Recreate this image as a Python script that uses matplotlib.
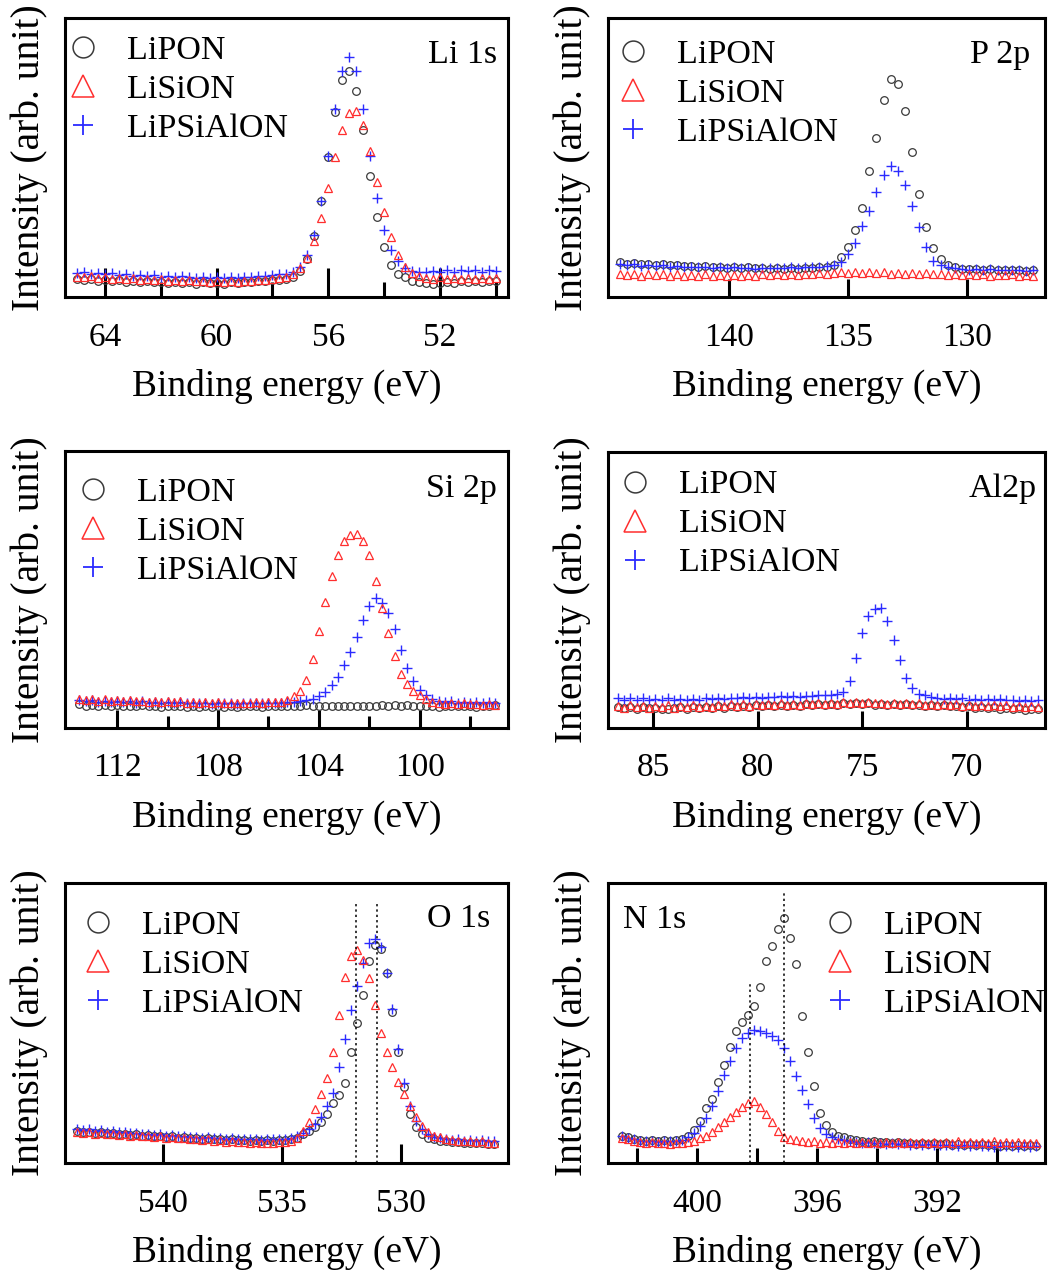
import numpy as np
import matplotlib
matplotlib.use("Agg")
import matplotlib.pyplot as plt
from matplotlib.lines import Line2D

W, H = 1061, 1284
plt.rcParams['font.family'] = ['Liberation Serif', 'DejaVu Serif']

SERIES = ['LiPON', 'LiSiON', 'LiPSiAlON']

# Li 1s : binding energy from 65.0 eV, 0.25 eV per point (intensity in % of axis height)
li_start, li_step = 65.0, 0.25
li_lipon = [6.4, 6.0, 6.5, 5.8, 6.2, 5.6, 6.0, 5.5, 5.8, 5.3, 5.6, 5.2, 5.5, 5.0, 5.4, 4.9, 5.3, 4.8, 5.2, 4.9,
            5.1, 4.8, 5.2, 5.0, 5.3, 5.2, 5.6, 5.8,
            6.0, 6.1, 6.3, 7.0, 9.3, 13.7, 21.8, 34.3, 50.2, 66.2, 77.8, 81.0, 74.0, 60.0, 43.5, 28.8, 18.0, 11.6,
            8.3, 7.0, 5.8, 5.2, 4.9,
            4.7, 5.0, 5.3, 5.0, 5.6, 5.3, 5.8, 5.4, 5.9, 5.6]
li_lision = [7.3, 7.0, 7.4, 6.8, 7.1, 6.6, 6.9, 6.4, 6.7, 6.2, 6.5, 6.0, 6.3, 5.9, 6.2, 5.7, 6.0, 5.6, 5.9, 5.5,
             5.8, 5.4, 5.7, 5.5, 5.8, 5.6, 6.0, 6.2,
             6.6, 6.8, 7.2, 8.2, 10.3, 14.0, 19.9, 28.4, 39.0, 50.2, 60.0, 66.0, 66.5, 61.5, 52.4, 41.2, 30.4, 21.4,
             15.0, 10.9, 8.5, 7.4, 6.9,
             6.6, 7.0, 6.5, 6.8, 6.4, 6.9, 6.5, 6.8, 6.3, 6.7]
li_lipsialon = [8.6, 8.9, 8.3, 8.7, 8.1, 8.5, 7.9, 8.2, 7.6, 8.0, 7.5, 7.8, 7.2, 7.6, 7.0, 7.4, 7.1, 6.8, 7.3, 6.9,
                7.2, 6.7, 7.1, 6.9, 7.3, 7.0, 7.5, 7.7,
                8.0, 8.1, 8.3, 9.0, 10.8, 14.9, 22.4, 34.5, 50.4, 67.5, 80.9, 86.0, 80.9, 67.5, 50.4, 35.5, 24.0,
                17.0, 12.8, 10.5, 9.3, 9.0, 8.8,
                9.4, 8.9, 9.6, 9.1, 9.7, 9.2, 9.5, 9.0, 9.6, 9.3]

# P 2p : from 144.6 eV, 0.3 eV per point
p_start, p_step = 144.6, 0.3
p_lipon = [12.4, 12.0, 12.3, 11.8, 11.9, 11.5, 11.7, 11.3, 11.4, 11.0, 11.2, 10.8, 11.0, 10.7, 10.9, 10.5, 10.8,
           10.4, 10.6, 10.3, 10.5, 10.2, 10.4, 10.1, 10.3, 10.2, 10.4, 10.3, 10.6, 10.8,
           11.5, 14.5, 18.0, 24.0, 32.0, 45.0, 56.9, 70.5, 78.0, 76.4, 66.5, 51.8, 36.9, 25.2, 17.6, 13.5, 11.6, 10.8,
           10.2, 9.9, 10.1, 9.7, 9.9, 9.6, 9.8, 9.5, 9.7, 9.4, 9.6]
p_lision = [8.4, 7.9, 8.2, 7.7, 8.3, 7.8, 8.1, 7.6, 8.2, 7.7, 8.0, 7.5, 8.1, 7.6, 7.9, 7.5, 8.0, 7.6, 7.9, 7.7,
            8.1, 7.8, 8.2, 7.9, 8.3, 8.0, 8.4, 8.1, 8.5, 8.2,
            8.6, 8.9, 8.5, 9.1, 8.7, 8.9, 8.6, 8.8, 8.4, 8.7, 8.3, 8.6, 8.2, 8.5, 8.1, 8.4, 8.0, 8.3,
            7.9, 8.2, 7.8, 8.1, 7.7, 8.0, 7.8, 8.1, 7.7, 7.9, 7.6]
p_lipsialon = [11.8, 11.4, 11.7, 11.2, 11.5, 11.0, 11.3, 10.9, 11.1, 10.7, 10.9, 10.6, 10.8, 10.4, 10.7, 10.3,
               10.6, 10.3, 10.5, 10.2, 10.4, 10.3, 10.5, 10.4, 10.6, 10.5, 10.7, 10.8, 10.9, 11.1,
               11.6, 12.6, 15.5, 19.5, 25.5, 30.8, 37.7, 43.9, 46.8, 45.3, 40.0, 32.6, 25.2, 18.0, 13.0, 11.5, 10.8,
               10.4,
               10.1, 9.8, 10.0, 9.7, 9.9, 9.6, 9.8, 9.5, 9.7, 9.4, 9.6]

# Si 2p : from 113.5 eV, 0.25 eV per point
si_start, si_step = 113.5, 0.25
si_lipon = [8.5, 8.1, 8.4, 8.0, 8.3, 7.9, 8.2, 7.9, 8.1, 7.8, 8.2, 7.8, 8.0, 7.7, 8.1, 7.8, 8.0, 7.7, 7.9, 7.6,
            8.0, 7.7, 7.9, 7.6, 8.0, 7.7, 7.9, 7.8, 8.0, 7.7, 7.9, 7.8, 8.0, 7.8, 8.1, 7.9, 8.2, 7.9, 8.1, 7.8,
            8.0, 7.8, 8.1, 7.9, 8.0, 7.8, 8.1, 7.9, 8.2, 8.0, 8.3, 8.0, 8.2, 7.9, 8.1, 7.8, 8.0, 7.7, 8.0, 7.8,
            8.1, 7.8, 8.0, 7.7, 8.1, 7.9, 8.2]
si_lision = [10.6, 10.1, 10.5, 9.9, 10.3, 9.8, 10.2, 9.7, 10.0, 9.6, 9.9, 9.5, 9.8, 9.4, 9.7, 9.3, 9.6, 9.2, 9.5,
             9.1, 9.4, 9.0, 9.3, 9.0, 9.2, 8.9, 9.2, 9.0, 9.3, 9.1, 9.4, 9.3,
             9.5, 10.2, 11.4, 13.5, 17.5, 25.0, 35.0, 45.5, 55.0, 62.5, 67.5, 69.8, 70.0, 67.5, 62.5, 53.0, 43.5,
             34.2, 26.0, 19.5, 15.8, 13.5, 11.8, 10.3, 9.5,
             9.0, 8.7, 9.1, 8.6, 8.9, 8.5, 8.8, 8.4, 8.7, 8.3]
si_lipsialon = [10.0, 9.6, 10.1, 9.5, 9.9, 9.4, 9.8, 9.3, 9.7, 9.2, 9.6, 9.2, 9.5, 9.1, 9.4, 9.0, 9.3, 8.9, 9.2,
                8.9, 9.2, 8.8, 9.1, 8.9, 9.2, 8.8, 9.1, 8.9, 9.2, 9.0, 9.1, 8.9, 9.2, 9.3,
                9.4, 9.6, 10.0, 10.6, 11.4, 13.0, 15.5, 18.5, 22.8, 27.5, 33.0, 39.0, 44.0, 46.8, 45.0, 41.5, 35.8,
                28.0, 21.5, 17.0, 13.8, 11.8, 10.4,
                9.8, 9.4, 9.7, 9.2, 9.5, 9.1, 9.4, 9.0, 9.3, 9.0]

# Al 2p : from 86.7 eV, 0.3 eV per point
al_start, al_step = 86.7, 0.3
al_lipon = [7.5, 7.1, 7.7, 7.0, 7.6, 7.2, 7.4, 6.9, 6.8, 7.3, 7.5, 7.0, 7.6, 7.2, 7.7, 7.3, 7.8, 7.4, 7.9, 7.5,
            8.1, 7.6, 8.2, 7.8, 8.3, 7.9, 8.4, 8.0, 8.5, 8.1, 8.6, 8.2, 8.7,
            8.3, 8.8, 8.4, 8.9, 8.6, 9.0, 8.7, 8.9, 8.5, 8.8, 8.4, 8.7, 8.3, 8.6, 8.2, 8.5, 8.1, 8.4,
            8.0, 8.3, 7.8, 8.1, 7.6, 7.9, 7.4, 7.7, 7.1, 7.5, 6.9, 7.3, 6.8, 7.2, 6.7, 7.0, 6.9]
al_lision = [8.0, 7.4, 8.2, 7.5, 8.1, 7.3, 7.9, 7.6, 8.3, 7.4, 8.0, 7.5, 8.2, 7.6, 8.1, 7.7, 8.4, 7.8, 8.6, 8.0,
             8.7, 8.1, 8.8, 8.2, 8.7, 8.3, 8.9, 8.4, 8.8, 8.5, 9.0, 8.6, 9.1,
             8.7, 9.2, 8.8, 9.4, 9.0, 9.5, 9.1, 9.3, 8.9, 9.2, 8.8, 9.1, 8.7, 9.0, 8.6, 8.9, 8.5, 8.8,
             8.4, 8.7, 8.2, 8.6, 8.1, 8.5, 8.0, 8.4, 7.9, 8.3, 7.8, 8.2, 7.7, 8.1, 7.6, 8.0, 7.5]
al_lipsialon = [10.8, 10.3, 10.9, 10.2, 10.7, 10.1, 10.6, 10.2, 10.8, 10.1, 10.5, 10.0, 10.6, 10.2, 10.7, 10.4,
                10.9, 10.5, 11.0, 10.7, 11.2, 10.9, 11.3, 11.0, 11.4, 11.1, 11.5, 11.2, 11.6, 11.3, 11.7, 11.5, 11.9,
                12.0, 11.8, 12.2, 13.0, 17.0, 25.5, 34.5, 40.5, 43.0, 43.5, 38.8, 32.0, 24.5, 18.0, 14.5, 12.4,
                11.8, 11.2,
                11.0, 10.6, 10.9, 10.4, 10.7, 10.2, 10.6, 10.1, 10.5, 10.0, 10.4, 10.0, 10.3, 9.8, 10.2, 9.9, 10.1]

# O 1s : from 543.6 eV, 0.25 eV per point
o_start, o_step = 543.6, 0.25
o_lipon = [11.4, 11.1, 11.2, 10.8, 11.0, 10.6, 10.7, 10.3, 10.5, 10.1, 10.2, 9.8, 10.0, 9.6, 9.7, 9.3, 9.5, 9.1,
           9.3, 8.9, 9.0, 8.6, 8.8, 8.4, 8.6, 8.2, 8.4, 8.1, 8.3, 8.0, 8.2, 7.9, 8.1, 8.0, 8.2, 8.3,
           8.5, 9.0, 10.2, 11.5, 13.0, 14.8, 17.5, 21.3, 24.3, 28.5, 39.5, 50.0, 60.0, 72.0, 78.0, 76.5, 68.0,
           54.0, 39.5, 27.2, 17.5, 12.7, 10.3, 9.1, 8.4, 8.0, 7.8,
           7.6, 7.4, 7.2, 7.3, 7.0, 7.1, 6.8, 6.7]
o_lision = [11.0, 10.7, 10.9, 10.5, 10.7, 10.3, 10.5, 10.1, 10.2, 9.8, 10.0, 9.6, 9.8, 9.3, 9.5, 9.1, 9.2, 8.8,
            9.0, 8.5, 8.7, 8.2, 8.4, 7.9, 8.1, 7.6, 7.8, 7.4, 7.6, 7.2, 7.4, 7.1, 7.3, 7.2, 7.4, 7.6,
            8.0, 9.0, 11.5, 14.5, 19.3, 24.5, 30.5, 39.5, 53.0, 66.5, 74.0, 76.1, 72.5, 66.0, 56.5, 46.5, 39.8,
            34.4, 29.0, 24.6, 20.5, 16.3, 13.2, 11.0, 9.8, 9.2, 8.6,
            8.2, 8.0, 7.8, 7.9, 7.5, 7.7, 7.3, 7.1]
o_lipsialon = [12.2, 11.8, 12.0, 11.5, 11.7, 11.2, 11.4, 10.9, 11.1, 10.6, 10.8, 10.3, 10.5, 10.0, 10.2, 9.8, 9.9,
               9.5, 9.7, 9.3, 9.4, 9.0, 9.2, 8.8, 9.0, 8.6, 8.8, 8.5, 8.7, 8.4, 8.6, 8.3, 8.5, 8.4, 8.6, 8.7,
               8.8, 9.6, 10.8, 12.3, 13.8, 16.3, 20.2, 25.1, 34.2, 44.2, 54.5, 63.3, 71.5, 78.5, 80.0, 77.0, 68.0,
               55.0, 40.8, 28.6, 20.2, 15.0, 12.0, 10.3, 9.3, 8.8, 8.5,
               8.2, 8.4, 8.0, 8.3, 7.9, 8.1, 7.8, 8.0]

# N 1s : from 402.5 eV, 0.2 eV per point
n_start, n_step = 402.5, 0.2
n_lipon = [9.8, 9.2, 8.6, 8.3, 8.0, 8.2, 7.9, 8.1, 8.0, 8.3,
           8.7, 9.6, 11.8, 15.0, 19.5, 23.0, 29.0, 35.0, 41.5, 47.0, 50.5, 53.0, 56.0, 63.0, 72.0, 77.5, 83.5,
           87.5, 80.5, 71.0, 52.5, 39.8, 27.5, 18.0, 13.5, 11.0, 9.8, 9.2, 8.6,
           8.2, 7.9, 7.6, 7.8, 7.4, 7.6, 7.2, 7.5, 7.1, 7.3, 6.9, 7.2, 6.8, 7.1, 6.7, 7.0, 6.6, 6.9, 6.5, 6.8,
           6.4, 6.7, 6.3, 6.6, 6.2, 6.5, 6.1, 6.4, 6.0, 6.3, 6.1]
n_lision = [9.0, 8.5, 7.9, 7.5, 7.2, 7.4, 7.0, 7.3, 6.9, 7.2,
            7.0, 7.4, 8.0, 8.8, 9.8, 11.0, 12.8, 14.8, 16.5, 18.3, 20.0, 21.5, 22.2, 20.0, 17.5, 14.5, 11.5, 9.3,
            8.5, 8.1,
            7.8, 7.4, 7.7, 7.2, 7.6, 7.1, 7.5, 7.0, 7.4, 7.1, 7.6, 7.2, 7.5, 7.0, 7.4, 7.1, 7.5, 7.2, 7.6, 7.1,
            7.4, 7.0, 7.5, 7.2, 7.6, 7.3, 7.7, 7.2, 7.5, 7.1, 7.6, 7.3, 7.7, 7.2, 7.5, 7.1, 7.4, 7.0, 7.3, 7.1]
n_lipsialon = [9.5, 9.0, 8.4, 8.0, 7.7, 7.9, 7.6, 7.8, 7.7, 8.0,
               8.3, 9.2, 10.8, 13.2, 16.2, 20.5, 25.8, 31.5, 36.5, 41.2, 44.5, 46.5, 47.5, 47.2, 46.5, 45.5, 44.0,
               41.0, 36.5, 31.0, 26.0, 21.0, 16.2, 12.5, 10.2, 9.2, 8.6, 8.2, 7.9,
               7.6, 7.3, 7.5, 7.1, 7.3, 6.9, 7.2, 6.8, 7.0, 6.6, 6.9, 6.5, 6.8, 6.4, 6.6, 6.3, 6.5, 6.2, 6.4, 6.0,
               6.3, 5.9, 6.2, 5.8, 6.1, 5.9, 6.2, 5.8, 6.0, 5.7, 5.9]

STYLE = {
    'LiPON': dict(marker='o', ms=5.5, mfc='none', mec='#3a3a3a', mew=0.9, ls='none'),
    'LiSiON': dict(marker='^', ms=6, mfc='none', mec='#ff2e2e', mew=0.9, ls='none'),
    'LiPSiAlON': dict(marker='+', ms=7, mec='#2b2bff', mew=1.0, ls='none'),
}
LEGEND_STYLE = {
    'LiPON': dict(marker='o', ms=15, mfc='none', mec='#3a3a3a', mew=1.1, ls='none'),
    'LiSiON': dict(marker='^', ms=16, mfc='none', mec='#ff2e2e', mew=1.1, ls='none'),
    'LiPSiAlON': dict(marker='+', ms=15, mec='#2b2bff', mew=1.3, ls='none'),
}

# box = (left, right, top, bottom) in figure pixels
panels = [
    dict(name='Li 1s', start=li_start, step=li_step, data=[li_lipon, li_lision, li_lipsialon],
         box=(65, 508, 18, 297), xlim=(65.43, 49.56), major=[64, 60, 56, 52], minor=[62, 58, 54, 50],
         tlen=(21, 10.5), leg=(0.002, 0.940), lab=(0.975, 0.839, 'right')),
    dict(name='P 2p', start=p_start, step=p_step, data=[p_lipon, p_lision, p_lipsialon],
         box=(608, 1045, 18, 297), xlim=(145.1, 126.7), major=[140, 135, 130], minor=[],
         tlen=(13, 8), leg=(0.018, 0.925), lab=(0.966, 0.839, 'right')),
    dict(name='Si 2p', start=si_start, step=si_step, data=[si_lipon, si_lision, si_lipsialon],
         box=(65, 508, 451, 728), xlim=(114.07, 96.5), major=[112, 108, 104, 100], minor=[110, 106, 102, 98],
         tlen=(13, 9), leg=(0.025, 0.907), lab=(0.975, 0.835, 'right')),
    dict(name='Al2p', start=al_start, step=al_step, data=[al_lipon, al_lision, al_lipsialon],
         box=(608, 1045, 452, 728), xlim=(87.17, 66.25), major=[85, 80, 75, 70], minor=[],
         tlen=(12, 8), leg=(0.023, 0.936), lab=(0.982, 0.838, 'right')),
    dict(name='O 1s', start=o_start, step=o_step, data=[o_lipon, o_lision, o_lipsialon],
         box=(65, 508, 883, 1163), xlim=(544.1, 525.5), major=[540, 535, 530], minor=[],
         tlen=(14, 8), leg=(0.036, 0.904), lab=(0.959, 0.844, 'right'),
         vlines=[(531.9, 92.9), (531.0, 92.9)]),
    dict(name='N 1s', start=n_start, step=n_step, data=[n_lipon, n_lision, n_lipsialon],
         box=(608, 1045, 883, 1163), xlim=(402.97, 388.4), major=[400, 396, 392], minor=[402, 398, 394, 390],
         tlen=(11, 11), leg=(0.492, 0.904), lab=(0.034, 0.838, 'left'),
         vlines=[(398.23, 64.7), (397.1, 96.8)]),
]

fig = plt.figure(figsize=(W / 100, H / 100), dpi=100)

for p in panels:
    L, R, T, B = p['box']
    ax = fig.add_axes([L / W, 1 - B / H, (R - L) / W, (B - T) / H])

    # draw order: LiPON, LiPSiAlON, LiSiON
    for idx in (0, 2, 1):
        y = np.asarray(p['data'][idx])
        x = p['start'] - p['step'] * np.arange(len(y))
        ax.plot(x, y, **STYLE[SERIES[idx]])

    for xv, ytop in p.get('vlines', []):
        ax.vlines(xv, 0, ytop, colors='k', linestyles=(0, (1.5, 2)), lw=1.1)

    ax.set_xlim(*p['xlim'])
    ax.set_ylim(0, 100)
    ax.set_yticks([])
    ax.set_xticks(p['major'])
    ax.set_xticks(p['minor'], minor=True)
    ax.tick_params(axis='x', which='major', direction='in', length=p['tlen'][0], width=2.2,
                   labelsize=24, pad=18)
    ax.tick_params(axis='x', which='minor', direction='in', length=p['tlen'][1], width=2.2)
    for s in ax.spines.values():
        s.set_linewidth(2.2)

    ax.set_xlabel('Binding energy (eV)', fontsize=27, labelpad=12)
    ax.set_ylabel('Intensity (arb. unit)', fontsize=28.5, labelpad=12)

    handles = [Line2D([], [], **LEGEND_STYLE[n]) for n in SERIES]
    ax.legend(handles, SERIES, loc='upper left', bbox_to_anchor=p['leg'], frameon=False,
              fontsize=24.5, borderpad=0, borderaxespad=0, handlelength=1.0, handletextpad=0.8,
              labelspacing=0.24)

    lx, ly, ha = p['lab']
    ax.text(lx, ly, p['name'], transform=ax.transAxes, ha=ha, va='baseline', fontsize=24.5)

fig.savefig('out.png', dpi=100)
